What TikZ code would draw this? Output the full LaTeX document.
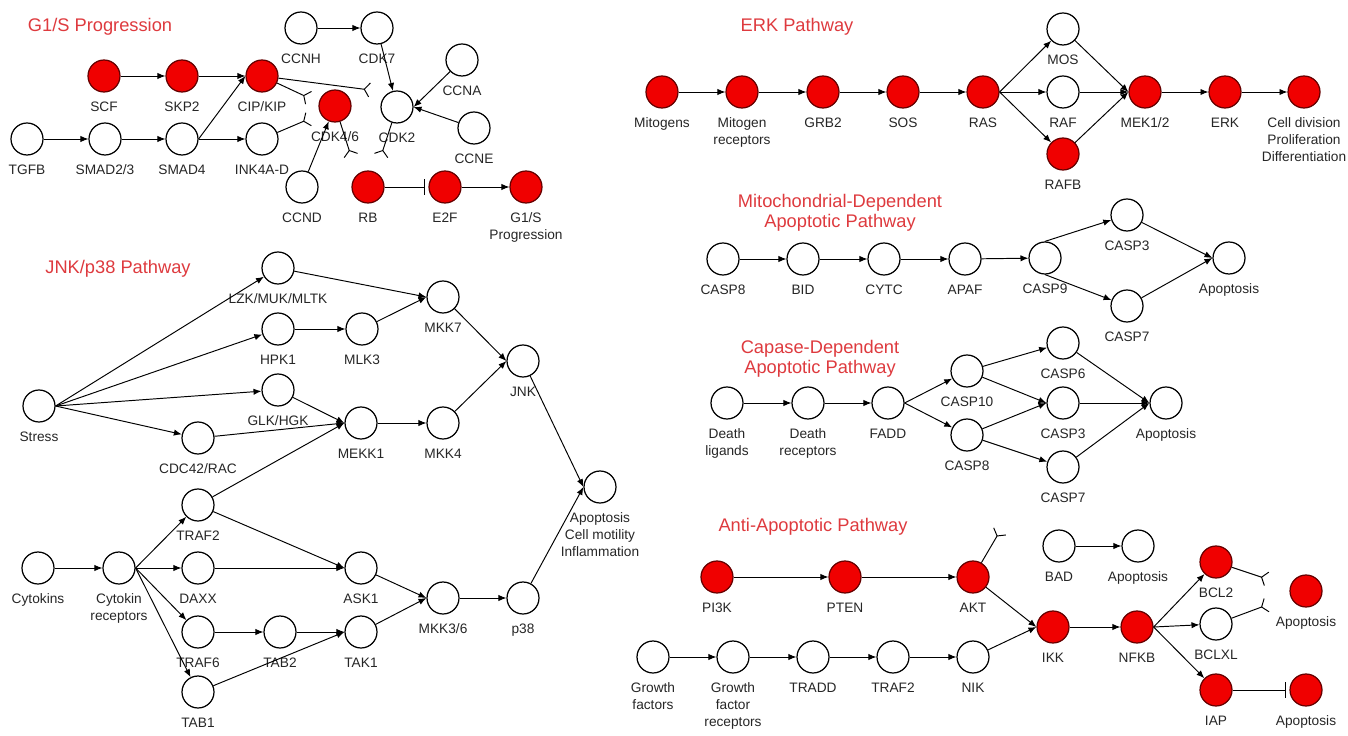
\documentclass[tikz,border=0pt]{standalone}
\usepackage{fontspec}
\setmainfont{Liberation Sans}
\usetikzlibrary{arrows.meta}
\definecolor{titlered}{RGB}{222,58,62}
\definecolor{hitred}{RGB}{240,0,0}
\newcommand{\lblfont}{\fontsize{7.8}{9.6}\selectfont}
\newcommand{\ttlfont}{\fontsize{10.4}{11.6}\selectfont}

\begin{document}
\begin{tikzpicture}[x=0.02cm, y=-0.02cm, label distance=5pt,
  gene/.style={circle, draw=black, line width=0.7pt, fill=white, minimum size=0.64cm, inner sep=0pt},
  hit/.style={gene, fill=hitred, draw=black!60!red},
  every label/.style={font=\lblfont, inner sep=0pt, align=center, text=black!85},
  ttl/.style={font=\ttlfont, text=titlered, align=center},
  act/.style={-{Latex[length=4.5pt,width=3.6pt]}, line width=0.55pt},
  inh/.style={-{Straight Barb[reversed, length=3pt, width=8pt]}, line width=0.55pt},
  blk/.style={-{Bar[width=9pt]}, line width=0.55pt, shorten >=2pt}]
\useasboundingbox (0,0) rectangle (1348,736);

% ---------------- G1/S progression
\node[ttl] (t-g1s) at (100,27) {G1/S Progression};
\node[gene, label=below:CCNH] (ccnh) at (301,28) {};
\node[gene, label=below:CDK7] (cdk7) at (377,28) {};
\node[hit, label=below:SCF] (scf) at (104,76) {};
\node[hit, label=below:SKP2] (skp2) at (182,76) {};
\node[hit, label=below:CIP/KIP] (cipkip) at (262,76) {};
\node[hit, label=below:CDK4/6] (cdk46) at (335,106) {};
\node[gene, label=below:CDK2] (cdk2) at (397,107) {};
\node[gene, label=below:CCNA] (ccna) at (462,60) {};
\node[gene, label=below:CCNE] (ccne) at (474,128) {};
\node[gene, label=below:TGFB] (tgfb) at (27,139) {};
\node[gene, label=below:SMAD2/3] (smad23) at (105,139) {};
\node[gene, label=below:SMAD4] (smad4) at (182,139) {};
\node[gene, label=below:INK4A-D] (ink4a) at (262,139) {};
\node[gene, label=below:CCND] (ccnd) at (302,187) {};
\node[hit, label=below:RB] (rb) at (368,187) {};
\node[hit, label=below:E2F] (e2f) at (445,187) {};
\node[hit, label={below:G1/S\\Progression}] (g1s) at (526,187) {};
\coordinate (cdk2-in) at (370,90);
\coordinate (cdk46-a) at (309,98);
\coordinate (cdk46-b) at (309,119);
\coordinate (rb-a) at (351,156);
\coordinate (rb-b) at (381,156);

\draw[act] (ccnh) -- (cdk7);
\draw[act] (cdk7) -- (cdk2);
\draw[act] (ccna) -- (cdk2.east);
\draw[act] (ccne) -- (cdk2.east);
\draw[act] (scf) -- (skp2);
\draw[act] (skp2) -- (cipkip.west);
\draw[act] (smad4.east) -- (cipkip.west);
\draw[act] (tgfb) -- (smad23);
\draw[act] (smad23) -- (smad4);
\draw[act] (smad4.east) -- (ink4a);
\draw[act] (ccnd) -- (cdk46);
\draw[inh] (cipkip) -- (cdk2-in);
\draw[inh] (cipkip) -- (cdk46-a);
\draw[inh] (ink4a) -- (cdk46-b);
\draw[inh] (cdk46) -- (rb-a);
\draw[inh] (cdk2) -- (rb-b);
\draw[blk] (rb) -- (e2f);
\draw[act] (e2f) -- (g1s);

% ---------------- ERK pathway
\node[ttl] (t-erk) at (797,27) {ERK Pathway};
\node[hit, label=below:Mitogens] (mitog) at (662,92) {};
\node[hit, label={below:Mitogen\\receptors}] (mitrec) at (742,92) {};
\node[hit, label=below:GRB2] (grb2) at (823,92) {};
\node[hit, label=below:SOS] (sos) at (903,92) {};
\node[hit, label=below:RAS] (ras) at (983,92) {};
\node[gene, label=below:MOS] (mos) at (1063,29) {};
\node[gene, label=below:RAF] (raf) at (1063,92) {};
\node[hit, label=below:RAFB] (rafb) at (1063,154) {};
\node[hit, label=below:MEK1/2] (mek) at (1145,92) {};
\node[hit, label=below:ERK] (erk) at (1225,92) {};
\node[hit, label={below:Cell division\\Proliferation\\Differentiation}] (celldiv) at (1304,92) {};

\draw[act] (mitog) -- (mitrec);
\draw[act] (mitrec) -- (grb2);
\draw[act] (grb2) -- (sos);
\draw[act] (sos) -- (ras);
\draw[act] (ras.east) -- (mos);
\draw[act] (ras.east) -- (raf);
\draw[act] (ras.east) -- (rafb);
\draw[act] (mos) -- (mek.west);
\draw[act] (raf) -- (mek.west);
\draw[act] (rafb) -- (mek.west);
\draw[act] (mek) -- (erk);
\draw[act] (erk) -- (celldiv);

% ---------------- JNK/p38 pathway
\node[ttl] (t-jnk) at (118,269) {JNK/p38 Pathway};
\node[gene, label=below:Stress] (stress) at (39,406) {};
\node[gene, label=below:LZK/MUK/MLTK] (lzk) at (278,268) {};
\node[gene, label=below:HPK1] (hpk1) at (278,329) {};
\node[gene, label=below:MLK3] (mlk3) at (362,329) {};
\node[gene, label=below:GLK/HGK] (glk) at (278,390) {};
\node[gene, label=below:CDC42/RAC] (cdc42) at (198,438) {};
\node[gene, label=below:MEKK1] (mekk1) at (361,423) {};
\node[gene, label=below:MKK7] (mkk7) at (443,297) {};
\node[gene, label=below:MKK4] (mkk4) at (443,423) {};
\node[gene, label=below:JNK] (jnk) at (523,361) {};
\node[gene, label={below:Apoptosis\\Cell motility\\Inflammation}] (apopjnk) at (600,487) {};
\node[gene, label=below:Cytokins] (cytok) at (38,568) {};
\node[gene, label={below:Cytokin\\receptors}] (cytrec) at (119,568) {};
\node[gene, label=below:TRAF2] (traf2j) at (198,505) {};
\node[gene, label=below:DAXX] (daxx) at (198,568) {};
\node[gene, label=below:TRAF6] (traf6) at (198,632) {};
\node[gene, label=below:TAB1] (tab1) at (198,692) {};
\node[gene, label=below:TAB2] (tab2) at (280,632) {};
\node[gene, label=below:ASK1] (ask1) at (361,568) {};
\node[gene, label=below:TAK1] (tak1) at (361,632) {};
\node[gene, label=below:MKK3/6] (mkk36) at (443,598) {};
\node[gene, label=below:p38] (p38) at (523,598) {};

\draw[act] (stress.east) -- (lzk);
\draw[act] (stress.east) -- (hpk1);
\draw[act] (stress.east) -- (glk);
\draw[act] (stress.east) -- (cdc42);
\draw[act] (lzk) -- (mkk7.west);
\draw[act] (hpk1) -- (mlk3);
\draw[act] (mlk3) -- (mkk7.west);
\draw[act] (glk) -- (mekk1.west);
\draw[act] (cdc42) -- (mekk1.west);
\draw[act] (traf2j) -- (mekk1.west);
\draw[act] (mekk1) -- (mkk4);
\draw[act] (mkk7) -- (jnk.west);
\draw[act] (mkk4) -- (jnk.west);
\draw[act] (jnk) -- (apopjnk.west);
\draw[act] (p38) -- (apopjnk.west);
\draw[act] (cytok) -- (cytrec);
\draw[act] (cytrec.east) -- (traf2j);
\draw[act] (cytrec.east) -- (daxx);
\draw[act] (cytrec.east) -- (traf6);
\draw[act] (cytrec.east) -- (tab1);
\draw[act] (traf2j) -- (ask1.west);
\draw[act] (daxx) -- (ask1.west);
\draw[act] (traf6) -- (tab2);
\draw[act] (tab2) -- (tak1.west);
\draw[act] (tab1) -- (tak1.west);
\draw[act] (ask1) -- (mkk36.west);
\draw[act] (tak1) -- (mkk36.west);
\draw[act] (mkk36) -- (p38);

% ---------------- Mitochondrial-dependent apoptosis
\node[ttl] (t-mito) at (840,213) {Mitochondrial-Dependent\\Apoptotic Pathway};
\node[gene, label=below:CASP8] (mcasp8) at (723,259) {};
\node[gene, label=below:BID] (bid) at (803,259) {};
\node[gene, label=below:CYTC] (cytc) at (884,259) {};
\node[gene, label=below:APAF] (apaf) at (965,259) {};
\node[gene, label=below:CASP9] (casp9) at (1045,258) {};
\node[gene, label=below:CASP3] (mcasp3) at (1127,215) {};
\node[gene, label=below:CASP7] (mcasp7) at (1127,306) {};
\node[gene, label=below:Apoptosis] (apopm) at (1229,258) {};

\draw[act] (mcasp8) -- (bid);
\draw[act] (bid) -- (cytc);
\draw[act] (cytc) -- (apaf);
\draw[act] (apaf) -- (casp9);
\draw[act] (casp9.north) -- (mcasp3);
\draw[act] (casp9.south) -- (mcasp7);
\draw[act] (mcasp3) -- (apopm.west);
\draw[act] (mcasp7) -- (apopm.west);

% ---------------- Capase-dependent apoptosis
\node[ttl] (t-casp) at (820,359) {Capase-Dependent\\Apoptotic Pathway};
\node[gene, label={below:Death\\ligands}] (dlig) at (727,403) {};
\node[gene, label={below:Death\\receptors}] (drec) at (808,403) {};
\node[gene, label=below:FADD] (fadd) at (888,403) {};
\node[gene, label=below:CASP10] (casp10) at (967,371) {};
\node[gene, label=below:CASP8] (ccasp8) at (967,435) {};
\node[gene, label=below:CASP6] (casp6) at (1063,343) {};
\node[gene, label=below:CASP3] (ccasp3) at (1063,403) {};
\node[gene, label=below:CASP7] (ccasp7) at (1063,467) {};
\node[gene, label=below:Apoptosis] (apopc) at (1166,403) {};

\draw[act] (dlig) -- (drec);
\draw[act] (drec) -- (fadd);
\draw[act] (fadd.east) -- (casp10);
\draw[act] (fadd.east) -- (ccasp8);
\draw[act] (casp10) -- (casp6);
\draw[act] (casp10) -- (ccasp3.west);
\draw[act] (ccasp8) -- (ccasp3.west);
\draw[act] (ccasp8) -- (ccasp7);
\draw[act] (casp6) -- (apopc.west);
\draw[act] (ccasp3) -- (apopc.west);
\draw[act] (ccasp7) -- (apopc.west);

% ---------------- Anti-apoptotic pathway
\node[ttl] (t-anti) at (813,527) {Anti-Apoptotic Pathway};
\node[hit, label=below:PI3K] (pi3k) at (717,577) {};
\node[hit, label=below:PTEN] (pten) at (845,577) {};
\node[hit, label=below:AKT] (akt) at (973,577) {};
\node[gene, label=below:BAD] (bad) at (1059,546) {};
\node[gene, label=below:Apoptosis] (apopbad) at (1138,546) {};
\node[gene, label={below:Growth\\factors}] (gfac) at (653,657) {};
\node[gene, label={below:Growth\\factor\\receptors}] (gfrec) at (733,657) {};
\node[gene, label=below:TRADD] (tradd) at (813,657) {};
\node[gene, label=below:TRAF2] (traf2a) at (893,657) {};
\node[gene, label=below:NIK] (nik) at (973,657) {};
\node[hit, label=below:IKK] (ikk) at (1053,627) {};
\node[hit, label=below:NFKB] (nfkb) at (1137,627) {};
\node[hit, label=below:BCL2] (bcl2) at (1216,562) {};
\node[gene, label=below:BCLXL] (bclxl) at (1216,624) {};
\node[hit, label=below:IAP] (iap) at (1216,690) {};
\node[hit, label=below:Apoptosis] (apopbcl) at (1306,591) {};
\node[hit, label=below:Apoptosis] (apopiap) at (1306,690) {};
\coordinate (bad-in) at (1000,531);
\coordinate (apop-a) at (1267,579);
\coordinate (apop-b) at (1267,605);

\draw[act] (pi3k) -- (pten);
\draw[act] (pten) -- (akt);
\draw[inh] (akt) -- (bad-in);
\draw[act] (bad) -- (apopbad);
\draw[act] (akt) -- (ikk.west);
\draw[act] (gfac) -- (gfrec);
\draw[act] (gfrec) -- (tradd);
\draw[act] (tradd) -- (traf2a);
\draw[act] (traf2a) -- (nik);
\draw[act] (nik) -- (ikk.west);
\draw[act] (ikk) -- (nfkb);
\draw[act] (nfkb.east) -- (bcl2);
\draw[act] (nfkb.east) -- (bclxl);
\draw[act] (nfkb.east) -- (iap);
\draw[inh] (bcl2) -- (apop-a);
\draw[inh] (bclxl) -- (apop-b);
\draw[blk] (iap) -- (apopiap);

\end{tikzpicture}
\end{document}
